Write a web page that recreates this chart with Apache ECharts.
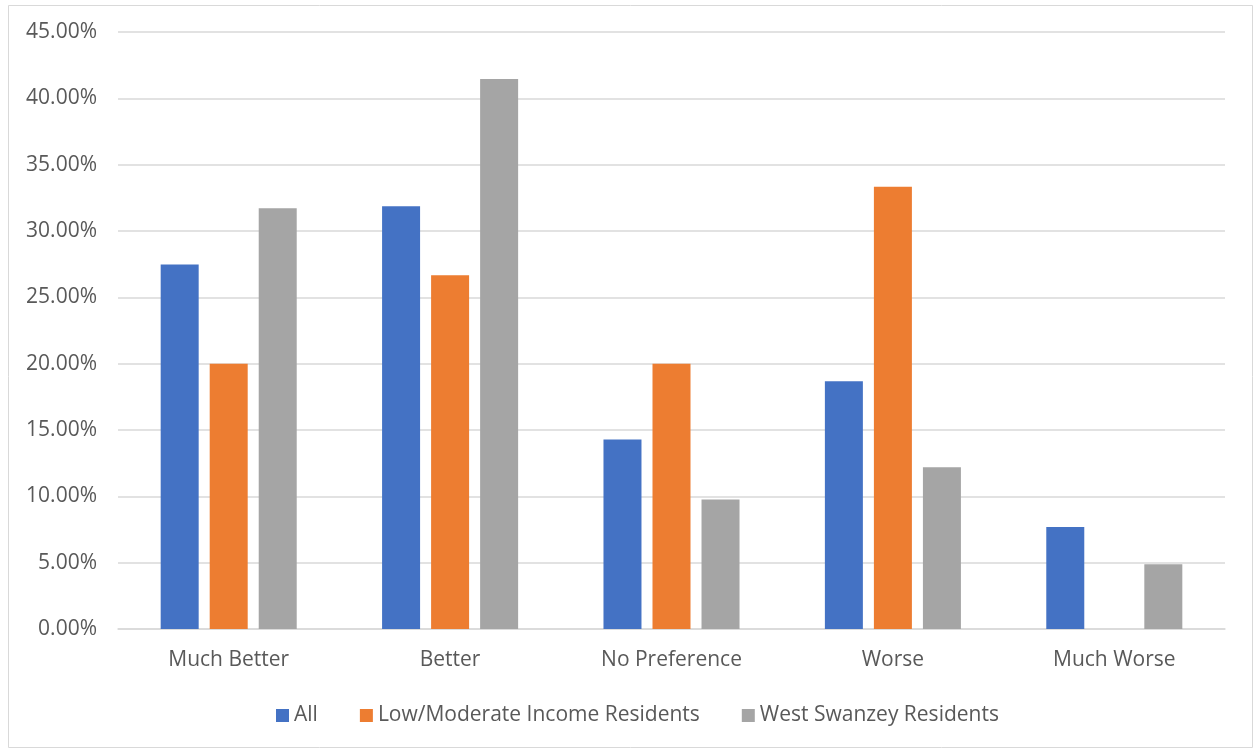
<!DOCTYPE html>
<html>
<head>
<meta charset="utf-8">
<script src="https://cdn.jsdelivr.net/npm/echarts@6/dist/echarts.min.js"></script>
<style>html,body{margin:0;padding:0;background:#fff;}#c{width:1253px;height:748px;}</style>
</head>
<body>
<div id="c"></div>
<script>
const categories = ["Much Better", "Better", "No Preference", "Worse", "Much Worse"];
const seriesNames = ["All", "Low/Moderate Income Residents", "West Swanzey Residents"];
const allValues = [27.47, 31.87, 14.29, 18.68, 7.69];
const lowModValues = [20.00, 26.67, 20.00, 33.33, 0];
const westSwanzeyValues = [31.71, 41.46, 9.76, 12.20, 4.88];
const colors = ["#4472C4", "#ED7D31", "#A5A5A5"];

const font = "'Open Sans', 'Liberation Sans', sans-serif";
const chart = echarts.init(document.getElementById('c'), null, {renderer: 'canvas'});
const data = [allValues, lowModValues, westSwanzeyValues];
chart.setOption({
  animation: false,
  backgroundColor: '#fff',
  textStyle: {fontFamily: font},
  graphic: [{
    type: 'rect', left: 6, top: 3, shape: {width: 1244, height: 742},
    style: {fill: 'none', stroke: '#d9d9d9', lineWidth: 1}, silent: true
  }],
  legend: {
    left: 271, top: 700,
    itemWidth: 13, itemHeight: 13, itemGap: 42,
    icon: 'rect',
    textStyle: {fontFamily: font, fontSize: 21, color: '#595959'},
    data: seriesNames
  },
  grid: {left: 118, right: 28, top: 32, bottom: 119, containLabel: false},
  xAxis: {
    type: 'category', data: categories,
    axisLine: {lineStyle: {color: '#d9d9d9', width: 1.5}},
    axisTick: {show: false},
    axisLabel: {color: '#595959', fontSize: 21, fontFamily: font, margin: 21}
  },
  yAxis: {
    type: 'value', min: 0, max: 45, interval: 5,
    axisLine: {show: false}, axisTick: {show: false},
    splitLine: {lineStyle: {color: '#d9d9d9', width: 1.5}},
    axisLabel: {color: '#595959', fontSize: 21, fontFamily: font, margin: 21,
      formatter: v => v.toFixed(2) + '%'}
  },
  series: seriesNames.map((n, i) => ({
    name: n, type: 'bar', data: data[i],
    barWidth: 38, barGap: '29%',
    itemStyle: {color: colors[i]}
  }))
});
</script>
</body>
</html>
